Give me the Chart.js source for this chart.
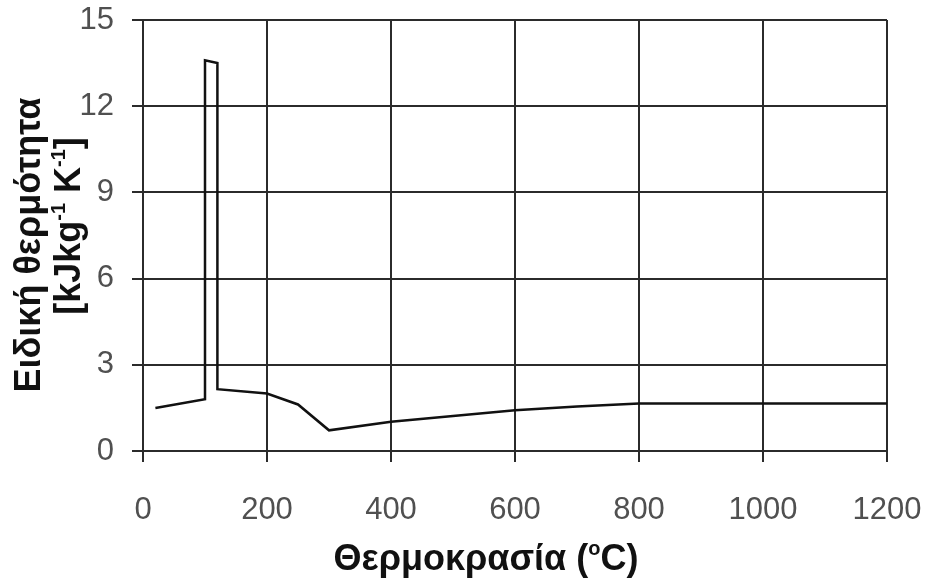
<!DOCTYPE html>
<html>
<head>
<meta charset="utf-8">
<script src="https://cdn.jsdelivr.net/npm/chart.js@4.4.1/dist/chart.umd.min.js"></script>
<style>
  html, body { margin: 0; padding: 0; background: #fff; }
  #wrap { width: 932px; height: 580px; }
</style>
</head>
<body>
<div id="wrap"><canvas id="c" width="932" height="580"></canvas></div>
<script>
// temperature (°C) vs specific heat (kJ/kg K)
const temps = [20, 100, 100, 120, 120, 200, 250, 300, 400, 500, 600, 700, 800, 1000, 1200];
const heat  = [1.5, 1.8, 13.6, 13.5, 2.15, 2.0, 1.62, 0.72, 1.02, 1.22, 1.42, 1.55, 1.65, 1.65, 1.65];

const xTicks = [0, 200, 400, 600, 800, 1000, 1200];
const yTicks = [0, 3, 6, 9, 12, 15];

const xTitle = [{ t: 'Θερμοκρασία (' }, { t: 'o', sup: true }, { t: 'C)' }];
const yTitle1 = [{ t: 'Ειδική θερμότητα' }];
const yTitle2 = [{ t: '[kJkg' }, { t: '-1', sup: true }, { t: ' K' }, { t: '-1', sup: true }, { t: ']' }];

const FONT = '"Liberation Sans", Arial, sans-serif';
const gridColor = '#2b2b2b';

// draws a line of text with small raised parts, centred on (cx, baseline)
function drawRich(ctx, parts, cx, baseline, size) {
    const big = 'bold ' + size + 'px ' + FONT;
    const small = 'bold ' + Math.round(size * 0.56) + 'px ' + FONT;
    let total = 0;
    parts.forEach(p => {
        ctx.font = p.sup ? small : big;
        p.w = ctx.measureText(p.t).width;
        total += p.w;
    });
    let x = cx - total / 2;
    parts.forEach(p => {
        ctx.font = p.sup ? small : big;
        ctx.fillText(p.t, x, p.sup ? baseline - size * 0.42 : baseline);
        x += p.w;
    });
}

const axisTitles = {
    id: 'axisTitles',
    afterDraw(chart) {
        const ctx = chart.ctx;
        ctx.save();
        ctx.fillStyle = '#111';
        ctx.textAlign = 'left';
        ctx.textBaseline = 'alphabetic';
        drawRich(ctx, xTitle, 486, 570, 36);

        ctx.rotate(-Math.PI / 2);
        // rotated: -y along the text, baseline lands on screen x
        drawRich(ctx, yTitle1, -245, 40, 36);
        drawRich(ctx, yTitle2, -226, 80, 36);
        ctx.restore();
    }
};

new Chart(document.getElementById('c'), {
    type: 'line',
    data: {
        datasets: [{
            data: temps.map((t, i) => ({ x: t, y: heat[i] })),
            borderColor: '#111',
            borderWidth: 2.5,
            pointRadius: 0,
            tension: 0,
            fill: false
        }]
    },
    options: {
        responsive: false,
        animation: false,
        events: [],
        layout: { padding: { top: 20, right: 45, left: 0, bottom: 0 } },
        plugins: { legend: { display: false }, tooltip: { enabled: false } },
        scales: {
            x: {
                type: 'linear',
                min: 0,
                max: 1200,
                afterBuildTicks: s => { s.ticks = xTicks.map(v => ({ value: v })); },
                afterFit: s => { s.height = 129; s.paddingLeft = 0; s.paddingRight = 0; },
                grid: { color: gridColor, lineWidth: 2, tickLength: 11, drawTicks: true },
                border: { color: gridColor, width: 2 },
                ticks: {
                    color: '#505050',
                    padding: 30,
                    maxRotation: 0,
                    callback: v => String(v),
                    font: { family: FONT, size: 31 }
                }
            },
            y: {
                min: 0,
                max: 15,
                afterBuildTicks: s => { s.ticks = yTicks.map(v => ({ value: v })); },
                afterFit: s => { s.width = 143; s.paddingTop = 0; s.paddingBottom = 0; },
                grid: { color: gridColor, lineWidth: 2, tickLength: 11, drawTicks: true },
                border: { color: gridColor, width: 2 },
                ticks: {
                    color: '#505050',
                    padding: 18,
                    callback: v => String(v),
                    font: { family: FONT, size: 31 }
                }
            }
        }
    },
    plugins: [axisTitles]
});
</script>
</body>
</html>
